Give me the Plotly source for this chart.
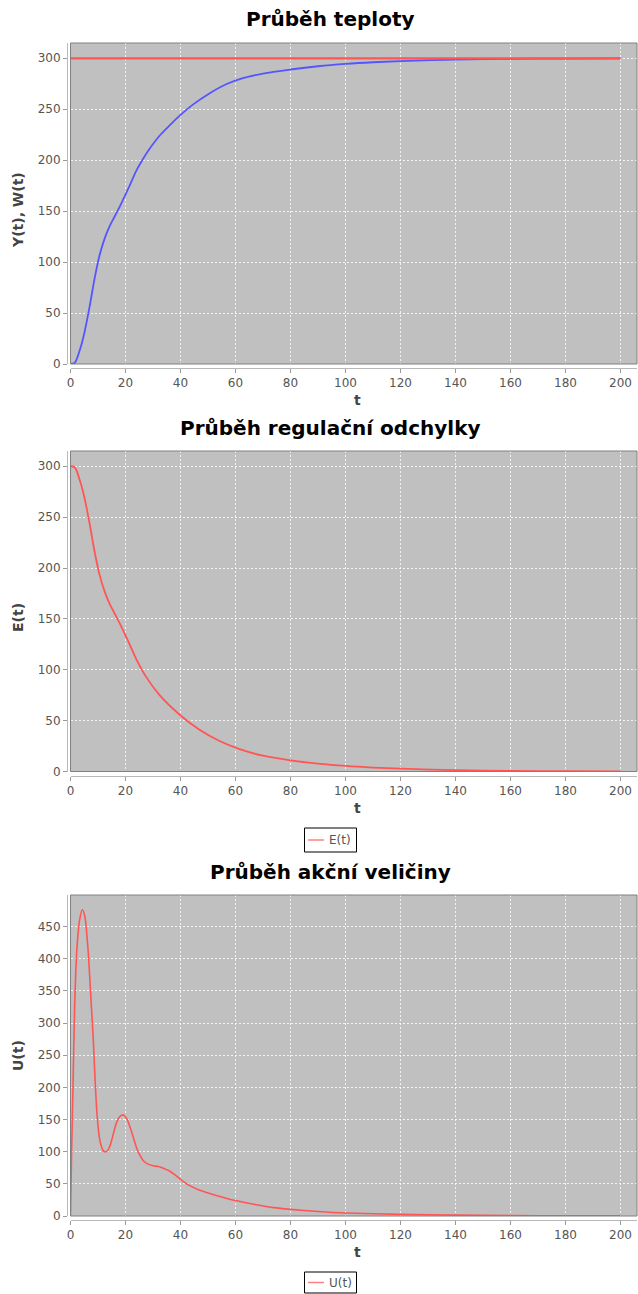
import plotly.graph_objects as go

W_PX, H_PX = 638, 1294

# ---- process data -------------------------------------------------------
# temperature Y(t)
t_y = [0, 1.5, 3.3, 5, 7, 8.7, 10.5, 12.4, 14.2, 16, 18, 19.6, 21.5, 24, 26.3,
       28.7, 32.4, 36, 39.6, 44.5, 50.5, 56.6, 62.7, 70, 80, 90, 100, 110, 120,
       140, 160, 180, 200]
y_vals = [0, 1, 13, 30, 57, 83, 106, 123, 135, 144.5, 155, 164, 175, 190, 201,
          211, 224, 234, 243.5, 254.5, 265.5, 274.5, 280.5, 285, 289, 292.2, 294.5,
          296.1, 297.2, 298.7, 299.4, 299.7, 299.9]

# set point W(t)
t_w = [0, 200]
w_vals = [300, 300]

# control error E(t)
t_e = [0, 1.5, 3.3, 5, 7, 8.7, 10.5, 12.4, 14.2, 16, 18, 19.6, 21.5, 24, 27.5,
       32.4, 39.6, 46.9, 54.2, 61.5, 70, 80, 90, 100, 110, 120, 140, 160, 180, 200]
e_vals = [300, 299, 287, 270, 243, 217, 194, 177, 165, 155.5, 145, 136, 125, 110,
          93, 75, 56, 41, 30, 22, 15.5, 11, 7.8, 5.5, 3.9, 2.8, 1.3, 0.6, 0.3, 0.1]

# actuating signal U(t)
t_u = [0, 0.4, 0.9, 1.5, 2.3, 3.3, 4.3, 5.2, 6.4, 7.6, 8.3, 8.9, 9.7, 10.7, 12,
       13, 14, 15, 16, 17, 18, 19.3, 20.5, 21.5, 22.5, 24, 25, 26.5, 28, 30, 32,
       34, 36, 38, 40, 43, 47, 53, 60, 67, 74, 80, 90, 100, 120, 140, 160, 180, 200]
u_vals = [0, 100, 200, 325, 413, 460, 476, 466, 413, 325, 273, 215, 155, 117, 101,
          100, 105, 118, 135, 148, 155, 157, 151, 140, 127, 106, 96, 86, 81, 78, 77,
          74, 70, 64, 57, 48, 40, 32, 24, 18, 13, 10.3, 7, 4.7, 2.6, 1.4, 0.7, 0.35, 0.15]

x_ticks = list(range(0, 201, 20))

BLUE = "#5555ff"
RED = "#ff5555"
BG = "#c0c0c0"
FONT = "DejaVu Sans"


def fx(px):
    return px / W_PX


def fy(py):
    return 1 - py / H_PX


panels = [
    dict(title="Průběh teploty", ytitle="Y(t), W(t)", top=43, bottom=364,
         axis=368, title_y=19, xt_y=400, yt_y=210, yrange=[0, 315], legend=None),
    dict(title="Průběh regulační odchylky", ytitle="E(t)", top=451, bottom=771.5,
         axis=775.5, title_y=428, xt_y=808, yt_y=618, yrange=[0, 315],
         legend=("E(t)", 828, 852)),
    dict(title="Průběh akční veličiny", ytitle="U(t)", top=895, bottom=1216,
         axis=1219.5, title_y=872, xt_y=1252, yt_y=1056, yrange=[0, 499],
         legend=("U(t)", 1272, 1293)),
]

fig = go.Figure()

fig.add_trace(go.Scatter(x=t_y, y=y_vals, mode="lines", name="Y(t)",
                         line=dict(color=BLUE, width=1.8, shape="spline", smoothing=0.9),
                         xaxis="x", yaxis="y", showlegend=False))
fig.add_trace(go.Scatter(x=t_w, y=w_vals, mode="lines", name="W(t)",
                         line=dict(color=RED, width=2.2),
                         xaxis="x", yaxis="y", showlegend=False))
fig.add_trace(go.Scatter(x=t_e, y=e_vals, mode="lines", name="E(t)",
                         line=dict(color=RED, width=1.8, shape="spline", smoothing=0.9),
                         xaxis="x2", yaxis="y2", showlegend=False))
fig.add_trace(go.Scatter(x=t_u, y=u_vals, mode="lines", name="U(t)",
                         line=dict(color=RED, width=1.6, shape="spline", smoothing=0.7),
                         xaxis="x3", yaxis="y3", showlegend=False))

layout = dict(
    width=W_PX, height=H_PX,
    margin=dict(l=0, r=0, t=0, b=0, autoexpand=False),
    paper_bgcolor="white", plot_bgcolor=BG,
    showlegend=False,
    font=dict(family=FONT, size=12, color="#555555"),
)

shapes = []
annotations = []
for i, p in enumerate(panels, start=1):
    sfx = "" if i == 1 else str(i)
    layout["xaxis" + sfx] = dict(
        domain=[fx(70.5), fx(637)], anchor="free", position=fy(p["axis"]),
        range=[0, 206], tickvals=x_ticks, ticks="outside", ticklen=4,
        tickcolor="#9a9a9a", showline=True, linecolor="#b8b8b8", linewidth=1,
        showgrid=True, gridcolor="rgba(255,255,255,0.8)", gridwidth=1,
        griddash="2px,2px", zeroline=False, automargin=False,
        tickfont=dict(family=FONT, size=12, color="#555555"),
    )
    layout["yaxis" + sfx] = dict(
        domain=[fy(p["bottom"]), fy(p["top"])], anchor="free", position=fx(67),
        range=p["yrange"], dtick=50, tick0=0, ticks="outside", ticklen=4,
        tickcolor="#9a9a9a", showline=True, linecolor="#b8b8b8", linewidth=1,
        showgrid=True, gridcolor="rgba(255,255,255,0.8)", gridwidth=1,
        griddash="2px,2px", zeroline=False, automargin=False,
        tickfont=dict(family=FONT, size=12, color="#555555"),
    )
    xr = "x" + sfx + " domain"
    yr = "y" + sfx + " domain"
    # plot area outline
    shapes.append(dict(type="rect", xref=xr, yref=yr, x0=0, x1=1, y0=0, y1=1,
                       line=dict(color="#808080", width=1), layer="above"))
    # chart title
    annotations.append(dict(text="<b>" + p["title"] + "</b>", xref="paper", yref="paper",
                            x=fx(330), y=fy(p["title_y"]), xanchor="center", yanchor="middle",
                            showarrow=False, font=dict(family=FONT, size=20, color="black")))
    # axis titles
    annotations.append(dict(text="<b>t</b>", xref="paper", yref="paper",
                            x=fx(357), y=fy(p["xt_y"]), xanchor="center", yanchor="middle",
                            showarrow=False, font=dict(family=FONT, size=14, color="#444444")))
    annotations.append(dict(text="<b>" + p["ytitle"] + "</b>", xref="paper", yref="paper",
                            x=fx(18), y=fy(p["yt_y"]), textangle=-90,
                            xanchor="center", yanchor="middle", showarrow=False,
                            font=dict(family=FONT, size=14, color="#444444")))
    # legend box
    if p["legend"]:
        label, ly0, ly1 = p["legend"]
        lx0, lx1 = 304.5, 356.5
        ym = (ly0 + ly1) / 2
        shapes.append(dict(type="rect", xref="paper", yref="paper",
                           x0=fx(lx0), x1=fx(lx1), y0=fy(ly1), y1=fy(ly0),
                           line=dict(color="black", width=1), fillcolor="white"))
        shapes.append(dict(type="line", xref="paper", yref="paper",
                           x0=fx(308), x1=fx(324), y0=fy(ym), y1=fy(ym),
                           line=dict(color="#ff8080", width=1.5)))
        annotations.append(dict(text=label, xref="paper", yref="paper",
                                x=fx(327), y=fy(ym), xanchor="left", yanchor="middle",
                                showarrow=False,
                                font=dict(family=FONT, size=12, color="#555555")))

layout["shapes"] = shapes
layout["annotations"] = annotations
fig.update_layout(**layout)

fig.write_html("out.html")
